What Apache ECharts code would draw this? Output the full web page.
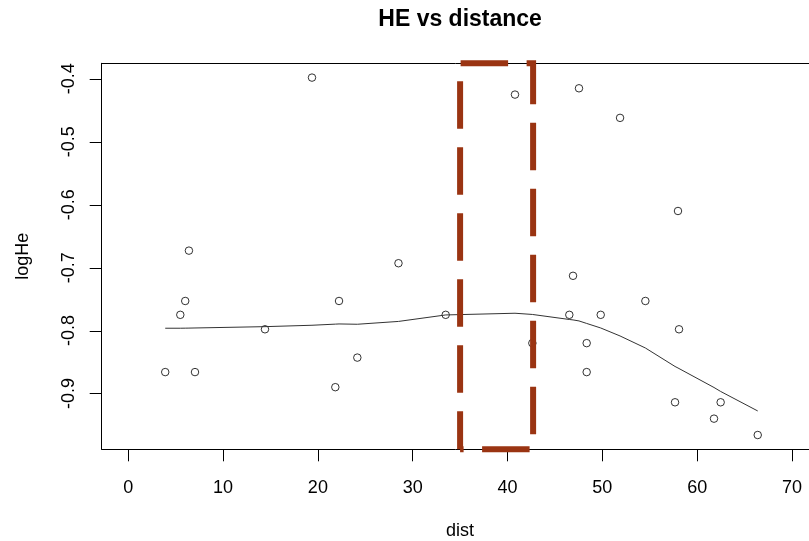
<!DOCTYPE html>
<html>
<head>
<meta charset="utf-8">
<title>HE vs distance</title>
<script src="https://cdn.jsdelivr.net/npm/echarts@6/dist/echarts.min.js"></script>
<style>
  html, body { margin: 0; padding: 0; background: #fff; }
  #chart { width: 809px; height: 541px; }
</style>
</head>
<body>
<div id="chart"></div>
<script>
// Sampled sites: distance and log heterozygosity
const dist = [3.90, 5.49, 6.01, 6.40, 7.04, 14.42, 19.38, 21.84, 22.23, 24.16,
              28.50, 33.48, 40.79, 42.62, 46.52, 46.91, 47.54, 48.35, 48.35, 49.83,
              51.87, 54.54, 57.67, 57.98, 58.09, 61.78, 62.48, 66.39];
const logHe = [-0.866, -0.775, -0.753, -0.673, -0.866, -0.798, -0.398, -0.890, -0.753, -0.843,
               -0.693, -0.775, -0.425, -0.820, -0.775, -0.713, -0.415, -0.820, -0.866, -0.775,
               -0.462, -0.753, -0.914, -0.610, -0.798, -0.940, -0.914, -0.966];

// Smoothed trend evaluated at the sorted distances
const smoothX = [3.90, 5.49, 6.01, 6.40, 7.04, 14.42, 19.38, 21.84, 22.23, 24.16,
                 28.50, 33.48, 40.79, 42.62, 46.52, 46.91, 47.54, 48.35, 49.83,
                 51.87, 54.54, 57.67, 57.98, 58.09, 61.78, 62.48, 66.39];
const smoothY = [-0.7963, -0.7963, -0.7962, -0.7961, -0.7959, -0.7938, -0.7916, -0.7898, -0.7895, -0.7900,
                 -0.7855, -0.7752, -0.7725, -0.7744, -0.7824, -0.7831, -0.7847, -0.7887, -0.7959,
                 -0.8086, -0.8277, -0.8571, -0.8595, -0.8604, -0.8905, -0.8968, -0.9278];

// Highlighted distance window
const highlight = [35, 42.7];

// Axis limits and tick values
const xLimits = [0, 70];
const xTickStep = 10;
const yTickValues = [-0.9, -0.8, -0.7, -0.6, -0.5, -0.4];
const yTickStep = 0.1;

// Extend a range by 4% on each side
function padRange(lo, hi) {
  const p = (hi - lo) * 0.04;
  return [lo - p, hi + p];
}
const xRange = padRange(xLimits[0], xLimits[1]);
const yRange = padRange(Math.min(...logHe), Math.max(...logHe));
const yTickRange = [Math.min(...yTickValues), Math.max(...yTickValues)];

// Plot region layout; it runs past the right edge of the canvas, so only the visible part is laid out
const W = 809, H = 541;
const plotLeft = 101.7, plotRight = 818.5, plotTop = 63.3, plotBottom = 449.3;
const tickLen = 12;
const xVisibleMax = xRange[0] + (xRange[1] - xRange[0]) * (W - plotLeft) / (plotRight - plotLeft);
const plotCenter = (plotLeft + plotRight) / 2;

// Pixel positions of values on the main scales, used to place the tick axes
const px = v => plotLeft + (v - xRange[0]) / (xRange[1] - xRange[0]) * (plotRight - plotLeft);
const py = v => plotTop + (yRange[1] - v) / (yRange[1] - yRange[0]) * (plotBottom - plotTop);

const points = dist.map((d, i) => [d, logHe[i]]);
const smooth = smoothX.map((d, i) => [d, smoothY[i]]);
const box = [
  [highlight[0], yRange[0]],
  [highlight[1], yRange[0]],
  [highlight[1], yRange[1]],
  [highlight[0], yRange[1]],
  [highlight[0], yRange[0]]
];
// left-edge anchors of the vertical-axis tick marks
const yTickAnchors = yTickValues.map(v => [xRange[0], v]);

const FONT = '"Liberation Sans", Arial, sans-serif';
const textStyle = { fontFamily: FONT, fontSize: 18, color: '#000' };
function frameLine() {
  return { show: true, onZero: false, lineStyle: { color: '#000', width: 1 } };
}
function hiddenAxis(gridIndex) {
  return { type: 'value', gridIndex, show: false, min: 0, max: 1 };
}
const noGridOuter = { show: false, outerBoundsMode: 'none', containLabel: false };

const chart = echarts.init(document.getElementById('chart'), null, { renderer: 'canvas' });
chart.setOption({
  animation: false,
  backgroundColor: '#fff',
  title: {
    text: 'HE vs distance',
    left: plotCenter,
    textAlign: 'center',
    top: 8,
    padding: 0,
    textStyle: { fontFamily: FONT, fontSize: 23, fontWeight: 'bold', color: '#000' }
  },
  grid: [
    // plotting region
    Object.assign({ left: plotLeft, right: 0, top: plotTop, bottom: H - plotBottom }, noGridOuter),
    // horizontal tick axis, spanning 0..70
    Object.assign({ left: px(xLimits[0]), right: W - px(xLimits[1]), top: plotTop, bottom: H - plotBottom }, noGridOuter),
    // vertical label axis, spanning -0.9..-0.4
    Object.assign({ left: plotLeft, right: 0, top: py(yTickRange[1]), bottom: H - py(yTickRange[0]) }, noGridOuter)
  ],
  xAxis: [
    {
      type: 'value', gridIndex: 0,
      min: xRange[0], max: xVisibleMax,
      axisLine: frameLine(), axisTick: { show: false }, axisLabel: { show: false }, splitLine: { show: false }
    },
    {
      // top edge of the frame
      type: 'value', gridIndex: 0, position: 'top',
      min: xRange[0], max: xVisibleMax,
      axisLine: frameLine(), axisTick: { show: false }, axisLabel: { show: false }, splitLine: { show: false }
    },
    {
      type: 'value', gridIndex: 1,
      min: xLimits[0], max: xLimits[1], interval: xTickStep,
      name: 'dist', nameLocation: 'middle', nameGap: 73, nameTextStyle: textStyle,
      axisLine: { show: false, onZero: false },
      axisTick: { show: true, length: tickLen, inside: false, lineStyle: { color: '#000', width: 1 } },
      axisLabel: Object.assign({ margin: 30 }, textStyle),
      splitLine: { show: false }
    },
    hiddenAxis(2)
  ],
  yAxis: [
    {
      type: 'value', gridIndex: 0,
      min: yRange[0], max: yRange[1],
      name: 'logHe', nameLocation: 'middle', nameGap: 70, nameRotate: 90, nameTextStyle: textStyle,
      axisLine: frameLine(), axisTick: { show: false }, axisLabel: { show: false }, splitLine: { show: false }
    },
    hiddenAxis(1),
    {
      type: 'value', gridIndex: 2, position: 'left',
      min: yTickRange[0], max: yTickRange[1], interval: yTickStep,
      axisLine: { show: false, onZero: false },
      axisTick: { show: false },
      axisLabel: Object.assign({ rotate: 90, margin: 24, formatter: v => String(Math.round(v * 10) / 10) }, textStyle),
      splitLine: { show: false }
    }
  ],
  series: [
    {
      // tick marks of the vertical axis, hanging left of the frame
      type: 'custom',
      xAxisIndex: 0, yAxisIndex: 0,
      data: yTickAnchors,
      clip: false,
      silent: true,
      z: 10,
      renderItem: function (params, api) {
        const p = api.coord([api.value(0), api.value(1)]);
        const y = Math.round(p[1]) + 0.5;
        return {
          type: 'line',
          shape: { x1: p[0] - tickLen, y1: y, x2: p[0], y2: y },
          style: { stroke: '#000', lineWidth: 1 }
        };
      }
    },
    {
      type: 'scatter',
      xAxisIndex: 0, yAxisIndex: 0,
      data: points,
      symbol: 'circle',
      symbolSize: 7.5,
      itemStyle: { color: 'rgba(0,0,0,0)', borderColor: '#000', borderWidth: 1 },
      z: 2,
      silent: true
    },
    {
      type: 'line',
      xAxisIndex: 0, yAxisIndex: 0,
      data: smooth,
      showSymbol: false,
      symbol: 'none',
      lineStyle: { color: '#333', width: 1 },
      z: 3,
      silent: true
    },
    {
      type: 'line',
      xAxisIndex: 0, yAxisIndex: 0,
      data: box,
      showSymbol: false,
      symbol: 'none',
      clip: false,
      lineStyle: { color: '#9A3412', width: 6, type: [47.5, 18.5], dashOffset: 44, cap: 'butt', join: 'miter' },
      z: 4,
      silent: true
    }
  ]
});
</script>
</body>
</html>
